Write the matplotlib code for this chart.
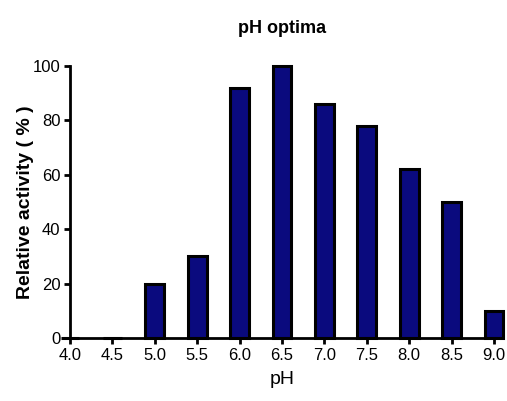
import matplotlib.pyplot as plt

# pH 数据
ph = [4.0, 4.5, 5.0, 5.5, 6.0, 6.5, 7.0, 7.5, 8.0, 8.5, 9.0]
activity = [0, 0, 20, 30, 92, 100, 86, 78, 62, 50, 10]
tick_labels = ["4.0", "4.5", "5.0", "5.5", "6.0", "6.5", "7.0", "7.5", "8.0", "8.5", "9.0"]

plt.rcParams['font.family'] = ['Liberation Sans Narrow', 'Liberation Sans', 'DejaVu Sans']

fig = plt.figure(figsize=(5.07, 4.01), dpi=100)
ax = fig.add_axes([70 / 507, 1 - 338 / 401, 424 / 507, 272 / 401])

bars = ax.bar(ph, activity, width=0.22, color='#0a0a7e', edgecolor='black', linewidth=2.2)
for b in bars:
    b.set_clip_on(False)

ax.set_xlim(4.0, 9.0)
ax.set_ylim(0, 100)
ax.set_xticks(ph)
ax.set_xticklabels(tick_labels)
ax.set_yticks([0, 20, 40, 60, 80, 100])

for side in ['top', 'right']:
    ax.spines[side].set_visible(False)
for side in ['left', 'bottom']:
    ax.spines[side].set_linewidth(2)
ax.tick_params(width=2, length=4, labelsize=12, pad=3)

ax.set_xlabel("pH", fontsize=14, labelpad=6)
ax.set_ylabel("Relative activity ( % )", fontsize=14, fontweight='bold',
              family=['Liberation Sans', 'DejaVu Sans'], labelpad=-1)
ax.set_title("pH optima", fontsize=13, fontweight='bold',
             family=['Liberation Sans', 'DejaVu Sans'], pad=24)

plt.savefig('out.png', dpi=100)
